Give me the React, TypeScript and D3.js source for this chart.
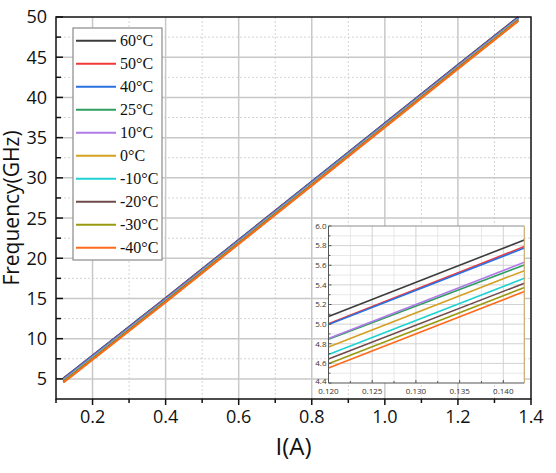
import React, { useEffect, useRef } from 'react';
import * as d3 from 'd3';

const currents = [0.12, 0.1424, 0.4, 0.8, 1.2, 1.365];

const labels = ['60°C', '50°C', '40°C', '25°C', '10°C', '0°C', '-10°C', '-20°C', '-30°C', '-40°C'];
const colors = ['#3c3c3c', '#f03a3a', '#2a70e0', '#2f9e60', '#b07ae8', '#d4a020', '#1ed2d2', '#6e4a4a', '#9a9a10', '#ff6a1a'];

const f60 = [5.077, 5.858, 15.05, 29.55, 44.05, 50.0];
const f50 = [5.005, 5.79, 14.98, 29.48, 43.98, 49.93];
const f40 = [4.995, 5.776, 14.97, 29.47, 43.97, 49.92];
const f25 = [4.845, 5.603, 14.82, 29.32, 43.82, 49.78];
const f10 = [4.853, 5.63, 14.83, 29.33, 43.83, 49.79];
const f0 = [4.766, 5.545, 14.74, 29.24, 43.74, 49.7];
const fm10 = [4.69, 5.468, 14.67, 29.17, 43.67, 49.63];
const fm20 = [4.644, 5.417, 14.62, 29.12, 43.62, 49.58];
const fm30 = [4.596, 5.373, 14.57, 29.07, 43.57, 49.54];
const fm40 = [4.552, 5.332, 14.53, 29.03, 43.53, 49.5];

const series = [f60, f50, f40, f25, f10, f0, fm10, fm20, fm30, fm40];

const xTicks = [0.2, 0.4, 0.6, 0.8, 1.0, 1.2, 1.4];
const yTicks = [5, 10, 15, 20, 25, 30, 35, 40, 45, 50];
const insetXTicks = [0.12, 0.125, 0.13, 0.135, 0.14];
const insetYTicks = [4.4, 4.6, 4.8, 5.0, 5.2, 5.4, 5.6, 5.8, 6.0];

const W = 556;
const H = 473;

const App: React.FC = () => {
  const svgRef = useRef<SVGSVGElement>(null);

  useEffect(() => {
    if (!svgRef.current) return;
    const svg = d3.select(svgRef.current);
    svg.selectAll('*').remove();

    const sans = '"Open Sans", "Noto Sans", sans-serif';
    const m = { left: 56, right: 531, top: 17, bottom: 399 };

    const x = d3.scaleLinear().domain([0.1, 1.4]).range([m.left, m.right]);
    const y = d3.scaleLinear().domain([2.5, 50]).range([m.bottom, m.top]);

    svg.append('rect').attr('width', W).attr('height', H).attr('fill', 'white');

    // grid
    const grid = svg.append('g');
    const xMinor = d3.range(0.3, 1.4, 0.2);
    const yMinor = d3.range(7.5, 50, 5);
    grid.selectAll('.xm').data(xMinor).enter().append('line')
      .attr('x1', d => x(d)).attr('x2', d => x(d)).attr('y1', m.top).attr('y2', m.bottom)
      .attr('stroke', '#d4d4d4').attr('stroke-dasharray', '2,2');
    grid.selectAll('.ym').data(yMinor).enter().append('line')
      .attr('x1', m.left).attr('x2', m.right).attr('y1', d => y(d)).attr('y2', d => y(d))
      .attr('stroke', '#d4d4d4').attr('stroke-dasharray', '2,2');
    grid.selectAll('.xg').data(xTicks.slice(0, -1)).enter().append('line')
      .attr('x1', d => x(d)).attr('x2', d => x(d)).attr('y1', m.top).attr('y2', m.bottom)
      .attr('stroke', '#c8c8c8').attr('stroke-width', 1.5);
    grid.selectAll('.yg').data(yTicks.slice(0, -1)).enter().append('line')
      .attr('x1', m.left).attr('x2', m.right).attr('y1', d => y(d)).attr('y2', d => y(d))
      .attr('stroke', '#c8c8c8').attr('stroke-width', 1.5);

    // curves
    const line = d3.line<number>()
      .x((_, i) => x(currents[i]))
      .y(d => y(d));
    svg.append('g').selectAll('path').data(series).enter().append('path')
      .attr('d', d => line(d) as string)
      .attr('fill', 'none')
      .attr('stroke', (_, i) => colors[i])
      .attr('stroke-width', 2);

    // frame
    svg.append('rect')
      .attr('x', m.left).attr('y', m.top)
      .attr('width', m.right - m.left).attr('height', m.bottom - m.top)
      .attr('fill', 'none').attr('stroke', '#111').attr('stroke-width', 1.5);

    // x ticks (outward)
    const ax = svg.append('g');
    ax.selectAll('.t').data(xTicks).enter().append('line')
      .attr('x1', d => x(d)).attr('x2', d => x(d)).attr('y1', m.bottom).attr('y2', m.bottom + 6)
      .attr('stroke', '#111').attr('stroke-width', 1.5);
    ax.selectAll('.tm').data([0.1, ...xMinor]).enter().append('line')
      .attr('x1', d => x(d)).attr('x2', d => x(d)).attr('y1', m.bottom).attr('y2', m.bottom + 4)
      .attr('stroke', '#111').attr('stroke-width', 1.5);
    ax.selectAll('text').data(xTicks).enter().append('text')
      .attr('x', d => x(d)).attr('y', m.bottom + 24)
      .attr('text-anchor', 'middle')
      .style('font-family', sans).style('font-size', '18px').attr('fill', '#111')
      .text(d => d3.format('.1f')(d));

    // y ticks (inward)
    const ay = svg.append('g');
    ay.selectAll('.t').data(yTicks).enter().append('line')
      .attr('x1', m.left).attr('x2', m.left + 7).attr('y1', d => y(d)).attr('y2', d => y(d))
      .attr('stroke', '#111').attr('stroke-width', 1.5);
    ay.selectAll('.tm').data(yMinor).enter().append('line')
      .attr('x1', m.left).attr('x2', m.left + 5).attr('y1', d => y(d)).attr('y2', d => y(d))
      .attr('stroke', '#111').attr('stroke-width', 1.5);
    ay.selectAll('text').data(yTicks).enter().append('text')
      .attr('x', m.left - 9).attr('y', d => y(d)).attr('dy', '0.36em')
      .attr('text-anchor', 'end')
      .style('font-family', sans).style('font-size', '18px').attr('fill', '#111')
      .text(d => d);

    // axis titles
    svg.append('text')
      .attr('x', (m.left + m.right) / 2).attr('y', 455)
      .attr('text-anchor', 'middle')
      .style('font-family', sans).style('font-size', '24px').attr('fill', '#111')
      .text('I(A)');
    svg.append('text')
      .attr('transform', `translate(19,${(m.top + m.bottom) / 2}) rotate(-90)`)
      .attr('text-anchor', 'middle')
      .style('font-family', sans).style('font-size', '21px').attr('fill', '#111')
      .text('Frequency(GHz)');

    // legend
    const lg = svg.append('g');
    lg.append('rect')
      .attr('x', 73).attr('y', 28).attr('width', 89).attr('height', 232)
      .attr('fill', 'white').attr('stroke', '#8a8a8a').attr('stroke-width', 1.2);
    const item = lg.selectAll('.item').data(labels).enter().append('g')
      .attr('transform', (_, i) => `translate(0,${40.7 + i * 23})`);
    item.append('line')
      .attr('x1', 76).attr('x2', 116).attr('y1', 0).attr('y2', 0)
      .attr('stroke', (_, i) => colors[i]).attr('stroke-width', 2);
    item.append('text')
      .attr('x', 120).attr('y', 0).attr('dy', '0.33em')
      .style('font-family', '"Liberation Serif", "DejaVu Serif", serif')
      .style('font-size', '16px').attr('fill', '#111')
      .text(d => d);

    // inset
    const ins = { left: 328.5, right: 524.3, top: 226, bottom: 383 };
    const ix = d3.scaleLinear().domain([0.12, 0.1424]).range([ins.left, ins.right]);
    const iy = d3.scaleLinear().domain([4.4, 6.0]).range([ins.bottom, ins.top]);
    const ig = svg.append('g');
    ig.append('rect')
      .attr('x', ins.left).attr('y', ins.top)
      .attr('width', ins.right - ins.left).attr('height', ins.bottom - ins.top)
      .attr('fill', 'white');
    const ixMinor = d3.range(0.1225, 0.1424, 0.005);
    const iyMinor = d3.range(4.5, 6.0, 0.2);
    ig.selectAll('.xm').data(ixMinor).enter().append('line')
      .attr('x1', d => ix(d)).attr('x2', d => ix(d)).attr('y1', ins.top).attr('y2', ins.bottom)
      .attr('stroke', '#e2e2e2').attr('stroke-width', 0.8);
    ig.selectAll('.ym').data(iyMinor).enter().append('line')
      .attr('x1', ins.left).attr('x2', ins.right).attr('y1', d => iy(d)).attr('y2', d => iy(d))
      .attr('stroke', '#e2e2e2').attr('stroke-width', 0.8);
    ig.selectAll('.xg').data(insetXTicks.slice(1)).enter().append('line')
      .attr('x1', d => ix(d)).attr('x2', d => ix(d)).attr('y1', ins.top).attr('y2', ins.bottom)
      .attr('stroke', '#d2d2d2').attr('stroke-width', 1);
    ig.selectAll('.yg').data(insetYTicks.slice(1, -1)).enter().append('line')
      .attr('x1', ins.left).attr('x2', ins.right).attr('y1', d => iy(d)).attr('y2', d => iy(d))
      .attr('stroke', '#d2d2d2').attr('stroke-width', 1);

    const iline = d3.line<number>()
      .x((_, i) => ix(currents[i]))
      .y(d => iy(d));
    ig.append('g').selectAll('path').data(series.map(s => s.slice(0, 2))).enter().append('path')
      .attr('d', d => iline(d) as string)
      .attr('fill', 'none')
      .attr('stroke', (_, i) => colors[i])
      .attr('stroke-width', 1.6);

    // inset frame
    ig.append('line').attr('x1', ins.left).attr('x2', ins.right).attr('y1', ins.top).attr('y2', ins.top)
      .attr('stroke', '#8c8c8c').attr('stroke-width', 1);
    ig.append('line').attr('x1', ins.right).attr('x2', ins.right).attr('y1', ins.top).attr('y2', ins.bottom)
      .attr('stroke', '#c9ab70').attr('stroke-width', 1.2);
    ig.append('line').attr('x1', ins.left).attr('x2', ins.right).attr('y1', ins.bottom).attr('y2', ins.bottom)
      .attr('stroke', '#555').attr('stroke-width', 1);
    ig.append('line').attr('x1', ins.left).attr('x2', ins.left).attr('y1', ins.top).attr('y2', ins.bottom)
      .attr('stroke', '#555').attr('stroke-width', 1);

    ig.selectAll('.xt').data(insetXTicks).enter().append('line')
      .attr('x1', d => ix(d)).attr('x2', d => ix(d)).attr('y1', ins.bottom).attr('y2', ins.bottom - 3)
      .attr('stroke', '#555');
    ig.selectAll('.xtm').data(ixMinor).enter().append('line')
      .attr('x1', d => ix(d)).attr('x2', d => ix(d)).attr('y1', ins.bottom).attr('y2', ins.bottom - 2)
      .attr('stroke', '#555');
    ig.selectAll('.yt').data(insetYTicks).enter().append('line')
      .attr('x1', ins.left).attr('x2', ins.left + 3).attr('y1', d => iy(d)).attr('y2', d => iy(d))
      .attr('stroke', '#555');
    ig.selectAll('.ytm').data(iyMinor).enter().append('line')
      .attr('x1', ins.left).attr('x2', ins.left + 2).attr('y1', d => iy(d)).attr('y2', d => iy(d))
      .attr('stroke', '#555');

    ig.selectAll('.xl').data(insetXTicks).enter().append('text')
      .attr('x', d => ix(d)).attr('y', ins.bottom + 11)
      .attr('text-anchor', 'middle')
      .style('font-family', sans).style('font-size', '8px').attr('fill', '#333')
      .text(d => d3.format('.3f')(d));
    ig.selectAll('.yl').data(insetYTicks).enter().append('text')
      .attr('x', ins.left - 2).attr('y', d => iy(d)).attr('dy', d => (d === 4.4 ? '0.1em' : '0.35em'))
      .attr('text-anchor', 'end')
      .style('font-family', sans).style('font-size', '8px').attr('fill', '#333')
      .text(d => d3.format('.1f')(d));
  }, []);

  return (
    <svg
      ref={svgRef}
      width={W}
      height={H}
      style={{ position: 'absolute', left: 0, top: 0 }}
    ></svg>
  );
};

export default App;
